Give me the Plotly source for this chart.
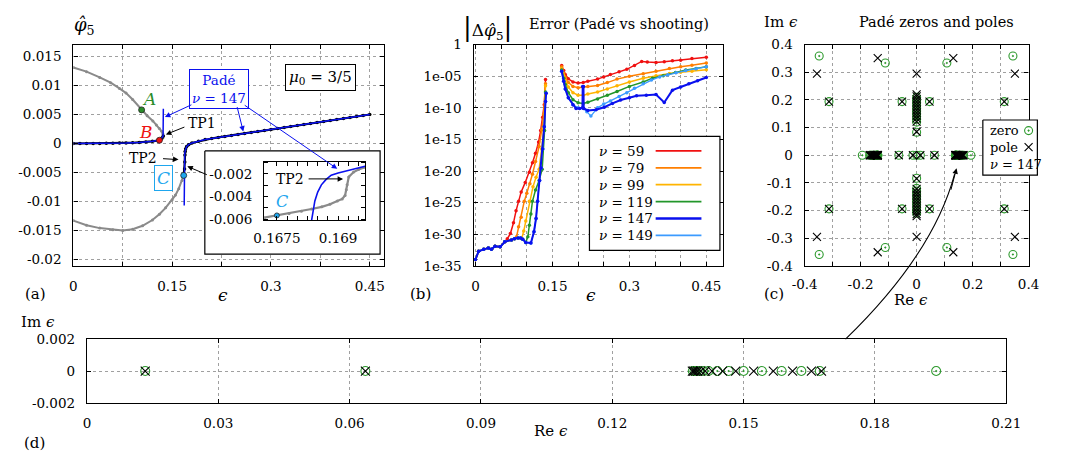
import plotly.graph_objects as go

W, H = 1066, 464
FONT = "DejaVu Serif"

# ---------------- data: panel (a) ----------------
a_up_eps = [0.0, 0.02, 0.04, 0.0566, 0.07, 0.08, 0.09, 0.1036, 0.112, 0.1207, 0.126, 0.1306, 0.1340, 0.1358, 0.1365, 0.1360, 0.1346, 0.1330, 0.1306]
a_up_phi = [0.0131, 0.0124, 0.0114, 0.0105, 0.0095, 0.0087, 0.0076, 0.0058, 0.0048, 0.0039, 0.0032, 0.0026, 0.0021, 0.0017, 0.0013, 0.0010, 0.0008, 0.00065, 0.00056]
a_lo_eps = [0.0, 0.02, 0.04, 0.06, 0.075, 0.09, 0.105, 0.12, 0.1306, 0.14, 0.15, 0.155, 0.16, 0.165, 0.1675]
a_lo_phi = [-0.0133, -0.0141, -0.0146, -0.0149, -0.0150, -0.0148, -0.0142, -0.0132, -0.0122, -0.0111, -0.0097, -0.0089, -0.0078, -0.0064, -0.0055]
a_bl_eps = [0.0, 0.01, 0.02, 0.03, 0.04, 0.05, 0.06, 0.07, 0.08, 0.09, 0.1, 0.11, 0.12, 0.1306, 0.134, 0.1365]
a_bl_phi = [0.0, 0.0, 0.0, 0.00001, 0.00002, 0.00003, 0.00005, 0.00007, 0.0001, 0.00013, 0.00018, 0.00026, 0.00038, 0.00056, 0.0009, 0.0013]
a_br_eps = [0.1675, 0.1688, 0.1692, 0.1694, 0.1697, 0.1705, 0.172, 0.175, 0.18, 0.19, 0.2,
            0.21, 0.22, 0.23, 0.24, 0.25, 0.26, 0.27, 0.28, 0.29, 0.30, 0.31, 0.32, 0.33,
            0.34, 0.35, 0.36, 0.37, 0.38, 0.39, 0.40, 0.41, 0.42, 0.43, 0.44, 0.45]
a_br_phi = [-0.0055, -0.0044, -0.0032, -0.0020, -0.0014, -0.0009, -0.0005, -0.0002, 0.0001, 0.0004, 0.0007,
            0.00087, 0.00105, 0.00122, 0.00139, 0.00157, 0.00174, 0.00191, 0.00208, 0.00226, 0.00243,
            0.0026, 0.00278, 0.00295, 0.00312, 0.0033, 0.00347, 0.00364, 0.00381, 0.00399, 0.00416,
            0.00433, 0.0045, 0.00468, 0.00485, 0.005]
a_pl_eps = [0.0, 0.02, 0.04, 0.06, 0.08, 0.1, 0.11, 0.12, 0.1306, 0.134, 0.1362, 0.1365, 0.1366]
a_pl_phi = [0.0, 0.0, 0.00002, 0.00005, 0.0001, 0.00018, 0.00026, 0.00038, 0.00056, 0.0009, 0.0013, 0.0030, 0.0060]
a_pr_eps = [0.1683, 0.16835, 0.16843, 0.1686, 0.169, 0.1697, 0.1705, 0.172, 0.175, 0.18, 0.19, 0.2, 0.25, 0.3, 0.35, 0.4, 0.45]
a_pr_phi = [-0.0107, -0.0061, -0.0044, -0.0030, -0.0019, -0.0013, -0.0009, -0.0005, -0.0002, 0.0001, 0.0004, 0.0007, 0.00157, 0.00243, 0.0033, 0.00416, 0.005]
pt_names = ["A", "B", "C"]
pt_eps = [0.1036, 0.1306, 0.1675]
pt_phi = [0.0058, 0.00056, -0.0055]
pt_cols = ["#2a8c2a", "#ee1111", "#1ea6ee"]

# inset of (a)
in_gray_eps = [0.16719, 0.1675, 0.1678, 0.1681, 0.16835, 0.1686, 0.1688, 0.16898, 0.1691, 0.16917, 0.1692, 0.16922, 0.16926, 0.16938, 0.1695, 0.16966]
in_gray_phi = [-0.00586, -0.00566, -0.00548, -0.0053, -0.00509, -0.0049, -0.00468, -0.00438, -0.0042, -0.0039, -0.0034, -0.00296, -0.00226, -0.00183, -0.0016, -0.0014]
in_blue_eps = [0.16835, 0.16838, 0.16843, 0.1685, 0.16859, 0.1687, 0.16883, 0.169, 0.16914, 0.1694, 0.16966]
in_blue_phi = [-0.0061, -0.0053, -0.00438, -0.0036, -0.00296, -0.0025, -0.00211, -0.00192, -0.0018, -0.00155, -0.00132]

# ---------------- data: panel (b)  (log10 of |error|) ----------------
nu_labels = ["59", "79", "99", "119", "147", "149"]
b_eps = {
    "59": [0, 0.006, 0.016, 0.025, 0.031, 0.038, 0.048, 0.057, 0.062, 0.068, 0.074, 0.079, 0.084, 0.089, 0.097, 0.105, 0.111, 0.117, 0.123, 0.127, 0.131, 0.134, 0.1365,
           None, 0.168, 0.172, 0.175, 0.181, 0.19, 0.2, 0.21, 0.219, 0.238, 0.25, 0.263, 0.28, 0.295, 0.31, 0.324, 0.335, 0.352, 0.368, 0.384, 0.4, 0.422, 0.45],
    "79": [0, 0.006, 0.016, 0.025, 0.031, 0.038, 0.048, 0.057, 0.07, 0.076, 0.08, 0.084, 0.089, 0.095, 0.1, 0.106, 0.111, 0.117, 0.124, 0.129, 0.133, 0.1365,
           None, 0.168, 0.172, 0.175, 0.181, 0.19, 0.2, 0.21, 0.219, 0.238, 0.257, 0.276, 0.3, 0.327, 0.352, 0.378, 0.4, 0.422, 0.45],
    "99": [0, 0.006, 0.016, 0.025, 0.031, 0.038, 0.048, 0.057, 0.07, 0.076, 0.083, 0.09, 0.094, 0.098, 0.105, 0.112, 0.118, 0.124, 0.129, 0.133, 0.1365,
           None, 0.168, 0.172, 0.175, 0.181, 0.19, 0.2, 0.21, 0.219, 0.238, 0.257, 0.276, 0.3, 0.327, 0.352, 0.378, 0.4, 0.422, 0.45],
    "119": [0, 0.006, 0.016, 0.025, 0.031, 0.038, 0.048, 0.057, 0.07, 0.076, 0.083, 0.088, 0.092, 0.098, 0.102, 0.105, 0.108, 0.111, 0.117, 0.124, 0.130, 0.1346, 0.1365,
            None, 0.168, 0.172, 0.175, 0.181, 0.19, 0.2, 0.21, 0.219, 0.238, 0.257, 0.276, 0.3, 0.327, 0.345, 0.366, 0.39, 0.41, 0.43, 0.45],
    "147": [0, 0.006, 0.016, 0.025, 0.031, 0.038, 0.048, 0.057, 0.07, 0.076, 0.083, 0.088, 0.092, 0.098, 0.108, 0.114, 0.118, 0.121, 0.125, 0.128, 0.131, 0.134, 0.1365, 0.1377,
            None, 0.168, 0.172, 0.175, 0.181, 0.19, 0.196, 0.203, 0.2085, 0.209, 0.2105, 0.211, 0.219, 0.235, 0.251, 0.267, 0.283, 0.3, 0.314, 0.333, 0.352, 0.368, 0.384, 0.4, 0.416, 0.433, 0.45],
    "149": [0, 0.006, 0.016, 0.025, 0.031, 0.038, 0.048, 0.057, 0.07, 0.076, 0.083, 0.088, 0.092, 0.098, 0.108, 0.114, 0.118, 0.121, 0.125, 0.128, 0.131, 0.134, 0.1365, 0.1377,
            None, 0.168, 0.172, 0.175, 0.181, 0.19, 0.2, 0.21, 0.217, 0.225, 0.238, 0.25, 0.263, 0.28, 0.295, 0.31, 0.327, 0.343, 0.359, 0.375, 0.391, 0.41, 0.43, 0.45],
}
b_log = {
    "59": [-34.0, -32.7, -32.4, -32.2, -32.4, -31.9, -32.0, -31.2, -30.7, -29.9, -28.2, -26.3, -24.8, -23.3, -21.8, -20.2, -18.7, -17.2, -15.4, -13.6, -11.5, -9.5, -5.5,
           None, -3.3, -4.1, -4.7, -5.4, -5.9, -6.05, -6.0, -5.8, -5.45, -5.1, -4.7, -4.3, -3.9, -3.3, -2.65, -2.75, -2.8, -2.7, -2.55, -2.45, -2.2, -2.0],
    "79": [-34.0, -32.7, -32.4, -32.2, -32.4, -31.9, -32.0, -31.2, -30.9, -30.7, -30.4, -28.8, -27.3, -24.8, -23.5, -22.0, -20.5, -18.5, -16.1, -13.5, -11.0, -6.2,
           None, -3.5, -4.5, -5.2, -6.0, -6.6, -6.8, -6.7, -6.6, -6.45, -6.0, -5.45, -5.0, -4.6, -4.2, -3.75, -3.5, -3.25, -2.9],
    "99": [-34.0, -32.7, -32.4, -32.2, -32.4, -31.9, -32.0, -31.2, -30.9, -30.7, -30.6, -30.7, -29.5, -27.9, -24.8, -22.5, -21.0, -19.7, -16.5, -13.1, -6.5,
           None, -3.8, -4.9, -5.7, -6.7, -7.6, -8.0, -8.0, -7.8, -7.5, -7.0, -6.5, -5.9, -5.3, -4.9, -4.55, -4.35, -4.2, -3.95],
    "119": [-34.0, -32.7, -32.4, -32.2, -32.4, -31.9, -32.0, -31.2, -30.9, -30.7, -30.6, -30.6, -30.8, -31.3, -30.4, -28.6, -26.8, -24.8, -23.0, -21.5, -19.7, -13.6, -7.5,
            None, -4.0, -5.3, -6.3, -7.6, -8.7, -9.2, -9.3, -9.1, -8.6, -8.0, -7.4, -6.6, -5.9, -5.3, -4.9, -4.4, -4.0, -3.75, -3.5],
    "147": [-34.0, -32.7, -32.4, -32.2, -32.4, -31.9, -32.0, -31.2, -30.9, -30.7, -30.6, -30.6, -30.8, -31.3, -31.4, -29.6, -27.5, -24.8, -21.5, -19.5, -16.5, -13.0, -9.0, -7.7,
            None, -4.2, -5.8, -7.0, -8.4, -9.5, -10.1, -10.1, -10.0, -6.6, -6.6, -10.1, -10.4, -10.3, -9.9, -9.3, -8.75, -8.4, -8.1, -8.0, -7.9, -9.15, -7.2, -6.7, -6.2, -5.7, -5.2],
    "149": [-34.0, -32.7, -32.4, -32.2, -32.4, -31.9, -32.0, -31.2, -30.9, -30.7, -30.6, -30.6, -30.8, -31.3, -31.4, -29.6, -27.5, -24.8, -21.5, -19.5, -16.5, -13.0, -9.0, -7.7,
            None, -4.2, -5.8, -7.0, -8.4, -9.5, -10.0, -10.05, -10.6, -11.3, -10.0, -9.4, -8.9, -8.2, -7.6, -6.9, -6.2, -5.6, -5.1, -4.75, -4.45, -4.1, -3.8, -3.5],
}
b_cols = {"59": "#f01010", "79": "#ff7f00", "99": "#ffb400", "119": "#22962a", "147": "#0a10ee", "149": "#3c9bff"}
b_widths = {"59": 1.5, "79": 1.5, "99": 1.5, "119": 1.5, "147": 2.0, "149": 1.3}

# ---------------- data: panel (c) ----------------
c_zero_re = [-0.348, -0.112, 0.108, 0.344, -0.348, -0.112, 0.108, 0.344,
             -0.313, -0.052, 0.046, 0.313, -0.313, -0.052, 0.046, 0.313,
             0, 0, 0, 0, 0, 0, 0, 0, 0, 0, 0,
             0, 0, 0, 0, 0, 0, 0, 0, 0, 0, 0,
             -0.194, -0.1674, -0.1632, -0.1587, -0.1542, -0.1500, -0.1466, -0.1440, -0.1420, -0.1408, -0.1399, -0.1393, -0.1388, -0.1384,
             -0.0636, -0.0133, 0.0, 0.0133, 0.0636,
             0.1384, 0.1388, 0.1393, 0.1399, 0.1408, 0.1420, 0.1440, 0.1466, 0.1500, 0.1542, 0.1587, 0.1632, 0.1674, 0.194]
c_zero_im = [0.359, 0.334, 0.334, 0.359, -0.359, -0.334, -0.334, -0.359,
             0.194, 0.194, 0.194, 0.194, -0.194, -0.194, -0.194, -0.194,
             0.083, 0.12, 0.13, 0.14, 0.15, 0.16, 0.17, 0.18, 0.19, 0.20, 0.21,
             -0.083, -0.12, -0.13, -0.14, -0.15, -0.16, -0.17, -0.18, -0.19, -0.20, -0.21,
             0, 0, 0, 0, 0, 0, 0, 0, 0, 0, 0, 0, 0, 0,
             0, 0, 0, 0, 0,
             0, 0, 0, 0, 0, 0, 0, 0, 0, 0, 0, 0, 0, 0]
c_pole_re = [-0.356, -0.139, 0, 0.131, 0.351, -0.356, -0.139, 0, 0.131, 0.351,
             -0.313, -0.052, 0.046, 0.313, -0.313, -0.052, 0.046, 0.313,
             0, 0, 0, 0, 0, 0, 0, 0, 0, 0, 0, 0,
             0, 0, 0, 0, 0, 0, 0, 0, 0, 0, 0, 0,
             -0.1678, -0.1655, -0.1612, -0.1568, -0.1523, -0.1482, -0.1452, -0.1428, -0.1412, -0.1402, -0.1395, -0.1390, -0.1386, -0.1383,
             -0.0636, -0.0133, 0.0133, 0.0636,
             0.1383, 0.1386, 0.1390, 0.1395, 0.1402, 0.1412, 0.1428, 0.1452, 0.1482, 0.1523, 0.1568, 0.1612, 0.1655, 0.1678]
c_pole_im = [0.295, 0.351, 0.295, 0.351, 0.295, -0.295, -0.351, -0.295, -0.351, -0.295,
             0.194, 0.194, 0.194, 0.194, -0.194, -0.194, -0.194, -0.194,
             0.085, 0.122, 0.133, 0.143, 0.153, 0.163, 0.173, 0.183, 0.193, 0.203, 0.213, 0.220,
             -0.085, -0.122, -0.133, -0.143, -0.153, -0.163, -0.173, -0.183, -0.193, -0.203, -0.213, -0.220,
             0, 0, 0, 0, 0, 0, 0, 0, 0, 0, 0, 0, 0, 0,
             0, 0, 0, 0,
             0, 0, 0, 0, 0, 0, 0, 0, 0, 0, 0, 0, 0, 0]

# ---------------- data: panel (d) ----------------
d_zero_re = [0.0133, 0.0636, 0.1384, 0.1388, 0.1393, 0.1399, 0.1408, 0.1420, 0.1440, 0.1466, 0.1500, 0.1542, 0.1587, 0.1632, 0.1674, 0.1940]
d_pole_re = [0.0133, 0.0636, 0.1383, 0.1386, 0.1390, 0.1395, 0.1402, 0.1412, 0.1428, 0.1452, 0.1482, 0.1523, 0.1568, 0.1612, 0.1655, 0.1678]
d_zero_im = [0.0] * len(d_zero_re)
d_pole_im = [0.0] * len(d_pole_re)

# ---------------- layout geometry (pixels) ----------------
A_FR = (62, 381, 38, 267)
B_FR = (473, 729, 38, 267)
C_FR = (813, 1043, 38, 267)
D_FR = (76, 1020, 343, 409)
I_FR = (258, 362, 159, 220)


def px(x):
    return x / W


def py(y):
    return 1 - y / H


def dom(fr):
    l, r, t, b = fr
    return [l / W, r / W], [1 - b / H, 1 - t / H]


GRAY = "#8a8a8a"
BLUE = "#0a10ee"
ZCOL = "#2e9a2e"

fig = go.Figure()

# ---- (a) ----
fig.add_trace(go.Scatter(x=a_up_eps, y=a_up_phi, mode="lines+markers", line=dict(color=GRAY, width=2),
                         marker=dict(size=3, color=GRAY), xaxis="x", yaxis="y"))
fig.add_trace(go.Scatter(x=a_lo_eps, y=a_lo_phi, mode="lines+markers", line=dict(color=GRAY, width=2),
                         marker=dict(size=3, color=GRAY), xaxis="x", yaxis="y"))
fig.add_trace(go.Scatter(x=a_bl_eps, y=a_bl_phi, mode="lines+markers", line=dict(color="black", width=2.2),
                         marker=dict(size=3.5, color="black"), xaxis="x", yaxis="y"))
fig.add_trace(go.Scatter(x=a_br_eps, y=a_br_phi, mode="lines+markers", line=dict(color="black", width=2.2),
                         marker=dict(size=3.5, color="black"), xaxis="x", yaxis="y"))
fig.add_trace(go.Scatter(x=a_pl_eps, y=a_pl_phi, mode="lines", line=dict(color=BLUE, width=1.5), xaxis="x", yaxis="y"))
fig.add_trace(go.Scatter(x=a_pr_eps, y=a_pr_phi, mode="lines", line=dict(color=BLUE, width=1.5), xaxis="x", yaxis="y"))
fig.add_trace(go.Scatter(x=pt_eps, y=pt_phi, mode="markers",
                         marker=dict(size=6, color=pt_cols, line=dict(color="#222", width=0.8)), xaxis="x", yaxis="y"))

# ---- (b) ----
for k in ["59", "79", "99", "119", "149", "147"]:
    yy = [None if v is None else 10.0 ** v for v in b_log[k]]
    fig.add_trace(go.Scatter(x=b_eps[k], y=yy, mode="lines+markers", connectgaps=False,
                             line=dict(color=b_cols[k], width=b_widths[k]),
                             marker=dict(size=3.5, color=b_cols[k]), xaxis="x2", yaxis="y2"))

# ---- (c) ----
fig.add_trace(go.Scatter(x=c_zero_re, y=c_zero_im, mode="markers",
                         marker=dict(symbol="circle-open-dot", size=8, color=ZCOL, line=dict(width=1.1, color=ZCOL)),
                         xaxis="x3", yaxis="y3"))
fig.add_trace(go.Scatter(x=c_pole_re, y=c_pole_im, mode="markers",
                         marker=dict(symbol="x-thin-open", size=8, color="black", line=dict(width=1.1, color="black")),
                         xaxis="x3", yaxis="y3"))

# ---- (d) ----
fig.add_trace(go.Scatter(x=d_zero_re, y=d_zero_im, mode="markers",
                         marker=dict(symbol="circle-open-dot", size=9, color=ZCOL, line=dict(width=1.1, color=ZCOL)),
                         xaxis="x4", yaxis="y4"))
fig.add_trace(go.Scatter(x=d_pole_re, y=d_pole_im, mode="markers",
                         marker=dict(symbol="x-thin-open", size=9, color="black", line=dict(width=1.1, color="black")),
                         xaxis="x4", yaxis="y4"))

# ---- overlay (pixel coordinates): boxes and legend samples ----
def box(l, t, r, b, lw=1.2, col="black"):
    fig.add_trace(go.Scatter(x=[l, r, r, l, l], y=[t, t, b, b, t], mode="lines", fill="toself",
                             fillcolor="white", line=dict(color=col, width=lw), xaxis="x5", yaxis="y5"))

box(197, 148, 377, 255)          # inset frame in (a)
box(592, 133, 726, 251)          # legend (b)
box(996, 116, 1052, 173)         # legend (c)
leg_rows = [148, 165.5, 183, 200.5, 218, 235.5]
for k, yr in zip(nu_labels, leg_rows):
    fig.add_trace(go.Scatter(x=[660, 707], y=[yr, yr], mode="lines",
                             line=dict(color=b_cols[k], width=b_widths[k] + 0.3), xaxis="x5", yaxis="y5"))
fig.add_trace(go.Scatter(x=[1043], y=[127], mode="markers",
                         marker=dict(symbol="circle-open-dot", size=8, color=ZCOL, line=dict(width=1.1, color=ZCOL)),
                         xaxis="x5", yaxis="y5"))
fig.add_trace(go.Scatter(x=[1043], y=[144], mode="markers",
                         marker=dict(symbol="x-thin-open", size=8, color="black", line=dict(width=1.1, color="black")),
                         xaxis="x5", yaxis="y5"))

# ---- inset ----
fig.add_trace(go.Scatter(x=in_gray_eps, y=in_gray_phi, mode="lines+markers", line=dict(color=GRAY, width=2.2),
                         marker=dict(size=3, color=GRAY), xaxis="x6", yaxis="y6"))
fig.add_trace(go.Scatter(x=in_blue_eps, y=in_blue_phi, mode="lines", line=dict(color=BLUE, width=1.6),
                         xaxis="x6", yaxis="y6"))
fig.add_trace(go.Scatter(x=[pt_eps[2]], y=[-0.00566], mode="markers",
                         marker=dict(size=5, color=pt_cols[2], line=dict(color="#222", width=0.8)),
                         xaxis="x6", yaxis="y6"))

# ---------------- axes ----------------
TICKFONT = dict(family=FONT, size=13.5, color="black")


def axc(fr_dom, rng, tickvals, ticktext, grid=True, **kw):
    d = dict(domain=fr_dom, range=rng, tickvals=tickvals, ticktext=ticktext, showline=True, linecolor="black",
             linewidth=1.3, mirror="allticks", ticks="inside", ticklen=4, tickcolor="black", tickwidth=1,
             showgrid=grid, gridcolor="#a0a0a0", griddash="dot", gridwidth=1, zeroline=False,
             tickfont=TICKFONT, fixedrange=True, ticklabelstandoff=8)
    d.update(kw)
    return d


ax_a, ay_a = dom(A_FR)
ax_b, ay_b = dom(B_FR)
ax_c, ay_c = dom(C_FR)
ax_d, ay_d = dom(D_FR)
ax_i, ay_i = dom(I_FR)

a_xt = [0, 0.075, 0.15, 0.225, 0.3, 0.375, 0.45]
a_xl = ["0", "", "0.15", "", "0.3", "", "0.45"]
a_yt = [-0.02, -0.015, -0.01, -0.005, 0, 0.005, 0.01, 0.015]
a_yl = ["-0.02", "-0.015", "-0.01", "-0.005", "0", "0.005", "0.01", "0.015"]
b_xt = [0, 0.05, 0.1, 0.15, 0.2, 0.25, 0.3, 0.35, 0.4, 0.45]
b_xl = ["0", "", "", "0.15", "", "", "0.3", "", "", "0.45"]
b_yt = [1e-35, 1e-30, 1e-25, 1e-20, 1e-15, 1e-10, 1e-5, 1]
b_yl = ["1e-35", "1e-30", "1e-25", "1e-20", "1e-15", "1e-10", "1e-05", "1"]
c_xt = [-0.4, -0.3, -0.2, -0.1, 0, 0.1, 0.2, 0.3, 0.4]
c_xl = ["-0.4", "", "-0.2", "", "0", "", "0.2", "", "0.4"]
c_yt = [-0.4, -0.3, -0.2, -0.1, 0, 0.1, 0.2, 0.3, 0.4]
c_yl = ["-0.4", "-0.3", "-0.2", "-0.1", "0", "0.1", "0.2", "0.3", "0.4"]
d_xt = [0, 0.03, 0.06, 0.09, 0.12, 0.15, 0.18, 0.21]
d_xl = ["0", "0.03", "0.06", "0.09", "0.12", "0.15", "0.18", "0.21"]
d_yt = [-0.002, 0, 0.002]
d_yl = ["-0.002", "0", "0.002"]
i_xt = [0.1675, 0.16775, 0.168, 0.16825, 0.1685, 0.16875, 0.169, 0.16925, 0.1695]
i_xl = ["0.1675", "", "", "", "", "", "0.169", "", ""]
i_yt = [-0.006, -0.005, -0.004, -0.003, -0.002, -0.001]
i_yl = ["-0.006", "", "-0.004", "", "-0.002", ""]

layout = dict(
    width=W, height=H, autosize=False, margin=dict(l=0, r=0, t=0, b=0),
    paper_bgcolor="white", plot_bgcolor="rgba(0,0,0,0)", showlegend=False,
    font=dict(family=FONT, size=14, color="black"),
    xaxis=axc(ax_a, [0, 0.4716], a_xt, a_xl, anchor="y"),
    yaxis=axc(ay_a, [-0.0211, 0.01705], a_yt, a_yl, anchor="x"),
    xaxis2=axc(ax_b, [-0.0038, 0.4823], b_xt, b_xl, anchor="y2"),
    yaxis2=axc(ay_b, [-35, 0], b_yt, b_yl, anchor="x2", type="log"),
    xaxis3=axc(ax_c, [-0.4, 0.4], c_xt, c_xl, anchor="y3", ticklabelstandoff=6),
    yaxis3=axc(ay_c, [-0.4, 0.4], c_yt, c_yl, anchor="x3"),
    xaxis4=axc(ax_d, [0, 0.21], d_xt, d_xl, anchor="y4"),
    yaxis4=axc(ay_d, [-0.002, 0.002], d_yt, d_yl, anchor="x4"),
    xaxis5=dict(domain=[0, 1], range=[0, W], visible=False, fixedrange=True, anchor="y5"),
    yaxis5=dict(domain=[0, 1], range=[H, 0], visible=False, fixedrange=True, anchor="x5"),
    xaxis6=axc(ax_i, [0.16719, 0.16967], i_xt, i_xl, grid=False, anchor="y6", ticklabelstandoff=5),
    yaxis6=axc(ay_i, [-0.0061, -0.0009], i_yt, i_yl, grid=False, anchor="x6"),
)
fig.update_layout(**layout)

# ---------------- annotations ----------------
anns = []


def txt(text, x, y, size=14, color="black", xanchor="center", **kw):
    d = dict(text=text, x=px(x), y=py(y), xref="paper", yref="paper", showarrow=False,
             font=dict(family=FONT, size=size, color=color), xanchor=xanchor, yanchor="middle")
    d.update(kw)
    anns.append(d)


def arr(x0, y0, x1, y1, color="black", width=1.0):
    anns.append(dict(text="", x=px(x1), y=py(y1), xref="paper", yref="paper", showarrow=True,
                     ax=x0 - x1, ay=y0 - y1, axref="pixel", ayref="pixel", arrowhead=2, arrowsize=1.1,
                     arrowwidth=width, arrowcolor=color, standoff=0, startstandoff=0))


EPS = "<i>\u03f5</i>"
PHI = "<i>\u03c6\u0302</i>"
NU = "<i>\u03bd</i>"

txt(PHI + "<sub>5</sub>", 73, 19, size=18)
txt("(a)", 23, 296, size=15)
txt(EPS, 216, 297, size=17)
txt("(b)", 418, 296, size=15)
txt(EPS, 594, 297, size=17)
txt("(c)", 782, 296, size=15)
txt("Re " + EPS, 922, 302, size=15)
txt("Im " + EPS, 789, 15, size=15)
txt("Pad\u00e9 zeros and poles", 948, 15, size=14.5, xanchor="center")
txt("<span style='font-size:26px'>|</span>\u0394" + PHI + "<sub>5</sub><span style='font-size:26px'>|</span>",
    487, 20, size=17)
txt("Error (Pad\u00e9 vs shooting)", 622, 17, size=14.5)
txt("(d)", 22, 451, size=15)
txt("Re " + EPS, 553, 438, size=15)
txt("Im " + EPS, 26, 325, size=15)

txt("<i>A</i>", 140, 94, size=17, color=pt_cols[0])
txt("<i>B</i>", 137, 128, size=17, color=pt_cols[1])
txt("<i>C</i>", 155, 176, size=17, color=pt_cols[2], bordercolor=pt_cols[2], borderwidth=1,
    borderpad=2, bgcolor="white")
txt("Pad\u00e9<br>" + NU + " = 147", 211.5, 84, size=13.5, color=BLUE, bordercolor=BLUE, borderwidth=1,
    borderpad=2, bgcolor="white")
txt("<i>\u03bc</i><sub>0</sub> = 3/5", 316, 72, size=15, bordercolor="black", borderwidth=1,
    borderpad=3, bgcolor="white")
txt("TP1", 194, 119, size=14)
txt("TP2", 134, 155, size=14)
txt("TP2", 284, 177, size=14)
txt("<i>C</i>", 276, 200, size=16, color=pt_cols[2])

arr(177, 123, 157, 131)
arr(153, 156, 170, 157)
arr(184, 100, 156, 113, color=BLUE)
arr(230, 102, 236.5, 128, color=BLUE)
arr(239, 102, 333, 166.5, color=BLUE)
arr(200, 173, 179, 164)
arr(303, 177, 339, 177)
arr(963, 189, 969, 166)

for k, yr in zip(nu_labels, leg_rows):
    txt(NU + " = " + k, 600, yr, size=13.5, xanchor="left")
txt("zero", 1001, 127, size=13, xanchor="left")
txt("pole", 1001, 144, size=13, xanchor="left")
txt(NU + " = 147", 1001, 162, size=13, xanchor="left")

fig.update_layout(annotations=anns)

# curved arrow from (c) to (d)
fig.add_shape(type="path", xref="paper", yref="paper",
              path=f"M {px(855)} {py(343)} Q {px(945)} {py(255)} {px(967)} {py(172)}",
              line=dict(color="black", width=1.1), layer="above")

fig.write_html("out.html")
